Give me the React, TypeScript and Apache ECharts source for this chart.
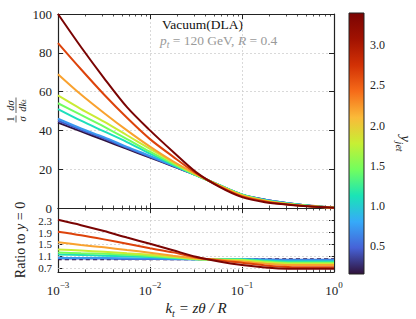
import React, { useEffect, useRef } from 'react';
import * as echarts from 'echarts';

// k_t sample points (log-spaced, quarter decades)
const KT = [0.001, 0.001778, 0.003162, 0.005623, 0.01, 0.01778, 0.03162, 0.05623, 0.1, 0.1778, 0.3162, 0.5623, 1];
// y_jet of each curve (drives colour)
const Y_JET = [0.16, 0.45, 0.72, 1.1, 1.45, 1.8, 2.2, 2.65, 3.4];

// 1/sigma dsigma/dk_t
const SPEC_0 = [44, 39.5, 35, 30.5, 26, 21.5, 17, 11.8, 6.8, 4.3, 2.5, 1.1, 0.2];
const SPEC_1 = [45, 40.3, 35.8, 31, 26.4, 21.7, 17, 11.8, 6.9, 4.2, 2.45, 1.08, 0.2];
const SPEC_2 = [46, 41, 36.5, 31.5, 26.8, 21.9, 17, 11.9, 7.0, 4.2, 2.4, 1.05, 0.2];
const SPEC_3 = [51, 45, 39.5, 34, 28, 22.3, 16.9, 11.9, 6.9, 4.0, 2.3, 1.02, 0.18];
const SPEC_4 = [54, 48, 42, 35.5, 29, 22.8, 17, 11.8, 6.8, 3.9, 2.2, 0.98, 0.17];
const SPEC_5 = [58, 51, 44.5, 37.5, 30.5, 23.5, 17.2, 11.7, 6.6, 3.8, 2.1, 0.94, 0.17];
const SPEC_6 = [69, 58.5, 49, 40, 31.6, 24, 17.5, 11.6, 6.3, 3.6, 2.0, 0.88, 0.16];
const SPEC_7 = [85, 71.5, 58.5, 46.5, 35.5, 26.5, 18, 11.3, 6.0, 3.4, 1.85, 0.8, 0.15];
const SPEC_8 = [100, 83, 67, 52, 40, 29, 18.5, 11, 5.6, 3.0, 1.7, 0.75, 0.14];
const SPECTRA = [SPEC_0, SPEC_1, SPEC_2, SPEC_3, SPEC_4, SPEC_5, SPEC_6, SPEC_7, SPEC_8];

// Ratio to y = 0
const RATIO_0 = [1, 1, 1, 1, 1, 1, 1, 1, 1, 1, 1, 1, 1];
const RATIO_1 = [1.03, 1.02, 1.02, 1.01, 1.01, 1.0, 1.0, 1.0, 1.0, 0.99, 0.98, 0.98, 0.98];
const RATIO_2 = [1.05, 1.04, 1.04, 1.03, 1.02, 1.01, 1.0, 1.0, 1.0, 0.98, 0.96, 0.96, 0.96];
const RATIO_3 = [1.16, 1.14, 1.12, 1.1, 1.07, 1.04, 1.0, 1.0, 1.0, 0.95, 0.92, 0.92, 0.92];
const RATIO_4 = [1.23, 1.2, 1.18, 1.15, 1.11, 1.06, 1.0, 0.99, 0.98, 0.92, 0.88, 0.88, 0.88];
const RATIO_5 = [1.33, 1.29, 1.25, 1.2, 1.15, 1.08, 1.01, 0.98, 0.96, 0.89, 0.85, 0.85, 0.85];
const RATIO_6 = [1.57, 1.48, 1.4, 1.31, 1.22, 1.12, 1.03, 0.98, 0.92, 0.85, 0.8, 0.8, 0.8];
const RATIO_7 = [1.93, 1.81, 1.67, 1.52, 1.37, 1.23, 1.06, 0.96, 0.88, 0.79, 0.74, 0.73, 0.73];
const RATIO_8 = [2.33, 2.15, 1.95, 1.73, 1.52, 1.3, 1.08, 0.92, 0.8, 0.72, 0.68, 0.68, 0.68];
const RATIOS = [RATIO_0, RATIO_1, RATIO_2, RATIO_3, RATIO_4, RATIO_5, RATIO_6, RATIO_7, RATIO_8];

// ticks
const X_MAJOR = [0.001, 0.01, 0.1, 1];
const X_MINOR = [
  0.002, 0.003, 0.004, 0.005, 0.006, 0.007, 0.008, 0.009,
  0.02, 0.03, 0.04, 0.05, 0.06, 0.07, 0.08, 0.09,
  0.2, 0.3, 0.4, 0.5, 0.6, 0.7, 0.8, 0.9,
];
const RATIO_TICKS = [0.7, 1.1, 1.5, 1.9, 2.3];
const CBAR_TICKS = [0.5, 1.0, 1.5, 2.0, 2.5, 3.0];
const CBAR_MIN = 0.156;
const CBAR_MAX = 3.4;

const TURBO = ['#30123b', '#4662d7', '#36aaf9', '#1ae4b6', '#72fe5e', '#c7ef34', '#faba39', '#f66b19', '#d23105', '#a11201', '#7a0403'];

function hexToRgb(h: string) {
  const n = parseInt(h.slice(1), 16);
  return [(n >> 16) & 255, (n >> 8) & 255, n & 255];
}
function turbo(t: number) {
  const tt = Math.max(0, Math.min(1, t)) * (TURBO.length - 1);
  const i = Math.min(TURBO.length - 2, Math.floor(tt));
  const f = tt - i;
  const a = hexToRgb(TURBO[i]);
  const b = hexToRgb(TURBO[i + 1]);
  const c = a.map((v, k) => Math.round(v + (b[k] - v) * f));
  return `rgb(${c[0]},${c[1]},${c[2]})`;
}
const colorFor = (y: number) => turbo((y - CBAR_MIN) / (CBAR_MAX - CBAR_MIN));

const FONT = "'Liberation Serif', 'DejaVu Serif', serif";
const INK = '#222';
const GRID_LINE = { show: true, lineStyle: { color: '#cfcfcf', type: [2, 2] as any, width: 0.8 } };

function xAxesFor(gridIndex: number, labels: boolean) {
  const base: any = {
    type: 'log', logBase: 10, min: 0.001, max: 1, gridIndex,
    axisLine: { show: true, onZero: false, lineStyle: { color: INK, width: 1.2 } },
    splitLine: { show: false },
    axisLabel: { show: false },
  };
  const major: any = {
    ...base, position: 'bottom',
    axisTick: { show: true, inside: true, length: 5, customValues: X_MAJOR, lineStyle: { color: INK, width: 1 } },
    splitLine: GRID_LINE,
  };
  if (labels) {
    major.axisLabel = {
      show: true, customValues: X_MAJOR, margin: 8,
      formatter: (v: number) => {
        const e = Math.round(Math.log10(v));
        return `{b|10}{s|${e < 0 ? '\u2212' + Math.abs(e) : e}}`;
      },
      rich: {
        b: { fontFamily: FONT, fontSize: 13, color: INK, verticalAlign: 'bottom', lineHeight: 17 },
        s: { fontFamily: FONT, fontSize: 9, color: INK, verticalAlign: 'top', lineHeight: 17 },
      },
    };
    major.name = '{i|k}{s|t}{i| = z\u03b8 / R}';
    major.nameLocation = 'middle';
    major.nameGap = 28;
    major.nameTextStyle = {
      rich: {
        i: { fontFamily: FONT, fontStyle: 'italic', fontSize: 15, color: INK, verticalAlign: 'top', lineHeight: 18 },
        s: { fontFamily: FONT, fontStyle: 'italic', fontSize: 10, color: INK, verticalAlign: 'bottom', lineHeight: 18 },
      },
    };
  }
  const top = {
    ...base, position: 'top',
    axisTick: { show: true, inside: true, length: 5, customValues: X_MAJOR, lineStyle: { color: INK, width: 1 } },
  };
  const minorB = {
    ...base, position: 'bottom', axisLine: { show: false, onZero: false },
    axisTick: { show: true, inside: true, length: 2.5, customValues: X_MINOR, lineStyle: { color: INK, width: 0.8 } },
  };
  const minorT = {
    ...base, position: 'top', axisLine: { show: false, onZero: false },
    axisTick: { show: true, inside: true, length: 2.5, customValues: X_MINOR, lineStyle: { color: INK, width: 0.8 } },
  };
  return [major, top, minorB, minorT];
}

export default function App() {
  const ref = useRef<HTMLDivElement>(null);
  useEffect(() => {
    if (!ref.current) return;
    const chart = echarts.init(ref.current, null, { renderer: 'svg' });

    const topSeries = SPECTRA.map((arr, i) => ({
      type: 'line', xAxisIndex: 0, yAxisIndex: 0,
      data: KT.map((x, j) => [x, arr[j]]),
      showSymbol: false, smooth: 0.3, z: 2 + i,
      lineStyle: { color: colorFor(Y_JET[i]), width: 2 },
      itemStyle: { color: colorFor(Y_JET[i]) },
    }));
    const ratioSeries = RATIOS.map((arr, i) => {
      const s: any = {
        type: 'line', xAxisIndex: 4, yAxisIndex: 2,
        data: KT.map((x, j) => [x, arr[j]]),
        showSymbol: false, smooth: 0.3, z: 2 + i,
        lineStyle: { color: colorFor(Y_JET[i]), width: 2, type: i === 0 ? [4, 3] : 'solid' },
        itemStyle: { color: colorFor(Y_JET[i]) },
      };
      if (i === 0) {
        s.markLine = {
          silent: true, symbol: 'none', label: { show: false }, z: 1,
          lineStyle: { color: '#cfcfcf', type: [2, 2], width: 0.8 },
          data: RATIO_TICKS.map((v) => ({ yAxis: v })),
        };
      }
      return s;
    });

    const stops = TURBO.map((c, i) => ({ offset: i / (TURBO.length - 1), color: c }));
    const FR = 10.5;

    chart.setOption({
      animation: false,
      backgroundColor: '#ffffff',
      textStyle: { fontFamily: FONT },
      grid: [
        { left: 58, top: 14, width: 276, height: 194 },
        { left: 58, top: 208, width: 276, height: 65 },
        { left: 349, top: 13, width: 15, height: 261 },
      ],
      xAxis: [
        ...xAxesFor(0, false),
        ...xAxesFor(1, true),
        { gridIndex: 2, type: 'value', min: 0, max: 1, show: false },
      ],
      yAxis: [
        {
          gridIndex: 0, type: 'value', min: 0, max: 100, interval: 20, position: 'left',
          axisLine: { show: true, onZero: false, lineStyle: { color: INK, width: 1.2 } },
          axisTick: { show: true, inside: true, length: 5, lineStyle: { color: INK } },
          axisLabel: { fontFamily: FONT, fontSize: 13, color: INK, margin: 6 },
          splitLine: GRID_LINE,
        },
        {
          gridIndex: 0, type: 'value', min: 0, max: 100, interval: 20, position: 'right',
          axisLine: { show: true, onZero: false, lineStyle: { color: INK, width: 1.2 } },
          axisTick: { show: true, inside: true, length: 5, lineStyle: { color: INK } },
          axisLabel: { show: false }, splitLine: { show: false },
        },
        {
          gridIndex: 1, type: 'value', min: 0.567, max: 2.73, position: 'left',
          axisLine: { show: true, onZero: false, lineStyle: { color: INK, width: 1.2 } },
          axisTick: { show: true, inside: true, length: 5, customValues: RATIO_TICKS, lineStyle: { color: INK } },
          axisLabel: {
            customValues: RATIO_TICKS, fontFamily: FONT, fontSize: 11, color: INK, margin: 6,
            formatter: (v: number) => v.toFixed(1),
          },
          splitLine: { show: false },
          name: '{r|Ratio to }{i|y}{r| = 0}', nameLocation: 'middle', nameRotate: 90, nameGap: 20,
          nameTextStyle: {
            rich: {
              r: { fontFamily: FONT, fontSize: 14, color: INK },
              i: { fontFamily: FONT, fontSize: 14, fontStyle: 'italic', color: INK },
            },
          },
        },
        {
          gridIndex: 1, type: 'value', min: 0.567, max: 2.73, position: 'right',
          axisLine: { show: true, onZero: false, lineStyle: { color: INK, width: 1.2 } },
          axisTick: { show: true, inside: true, length: 5, customValues: RATIO_TICKS, lineStyle: { color: INK } },
          axisLabel: { show: false }, splitLine: { show: false },
        },
        {
          gridIndex: 2, type: 'value', min: CBAR_MIN, max: CBAR_MAX, position: 'right',
          axisLine: { show: false },
          axisTick: { show: true, inside: false, length: 4, customValues: CBAR_TICKS, lineStyle: { color: INK } },
          axisLabel: { customValues: CBAR_TICKS, fontFamily: FONT, fontSize: 12, color: INK, margin: 6, formatter: (v: number) => v.toFixed(1) },
          splitLine: { show: false },
          name: '{i|y}{s|jet}', nameLocation: 'middle', nameRotate: -90, nameGap: 30,
          nameTextStyle: {
            rich: {
              i: { fontFamily: FONT, fontSize: 14, fontStyle: 'italic', color: INK, verticalAlign: 'top', lineHeight: 18 },
              s: { fontFamily: FONT, fontSize: 10, fontStyle: 'italic', color: INK, verticalAlign: 'bottom', lineHeight: 18 },
            },
          },
        },
      ],
      series: [
        ...topSeries,
        ...ratioSeries,
        {
          type: 'custom', xAxisIndex: 8, yAxisIndex: 4, data: [[0.5, 1]], silent: true,
          renderItem: (params: any) => {
            const cs = params.coordSys;
            return {
              type: 'rect',
              shape: { x: cs.x, y: cs.y, width: cs.width, height: cs.height },
              style: { fill: new echarts.graphic.LinearGradient(0, 1, 0, 0, stops), stroke: INK, lineWidth: 1 },
            };
          },
        },
      ],
      graphic: [
        {
          type: 'text', left: 162, top: 17,
          style: { text: 'Vacuum(DLA)', fontFamily: FONT, fontSize: 13.5, fill: '#111' },
        },
        {
          type: 'text', left: 160, top: 33,
          style: {
            text: '{i|p}{s|t}{r| = 120 GeV, }{i|R}{r| = 0.4}',
            rich: {
              i: { fontFamily: FONT, fontSize: 13.5, fontStyle: 'italic', fill: '#9a9a9a', verticalAlign: 'top', lineHeight: 17 },
              s: { fontFamily: FONT, fontSize: 9.5, fontStyle: 'italic', fill: '#9a9a9a', verticalAlign: 'bottom', lineHeight: 17 },
              r: { fontFamily: FONT, fontSize: 13.5, fill: '#9a9a9a', verticalAlign: 'top', lineHeight: 17 },
            },
          },
        },
        {
          type: 'group', x: 16, y: 110, rotation: Math.PI / 2,
          children: [
            { type: 'text', x: -9, y: -0.5, style: { text: '1', fontFamily: FONT, fontSize: FR, fill: INK, align: 'center', verticalAlign: 'bottom' } },
            { type: 'line', shape: { x1: -12.5, y1: 0, x2: -5.5, y2: 0 }, style: { stroke: INK, lineWidth: 0.7 } },
            { type: 'text', x: -9, y: 0.5, style: { text: '\u03c3', fontFamily: FONT, fontSize: FR, fontStyle: 'italic', fill: INK, align: 'center', verticalAlign: 'top' } },
            { type: 'text', x: 4.5, y: -0.5, style: { text: 'd\u03c3', fontFamily: FONT, fontSize: FR, fontStyle: 'italic', fill: INK, align: 'center', verticalAlign: 'bottom' } },
            { type: 'line', shape: { x1: -3, y1: 0, x2: 12.5, y2: 0 }, style: { stroke: INK, lineWidth: 0.7 } },
            { type: 'text', x: 4.5, y: 0.5, style: { text: 'dk\u209c', fontFamily: FONT, fontSize: FR, fontStyle: 'italic', fill: INK, align: 'center', verticalAlign: 'top' } },
          ],
        },
      ],
    });
    return () => chart.dispose();
  }, []);
  return <div ref={ref} style={{ position: 'fixed', left: 0, top: 0, width: 416, height: 319, background: '#fff' }} />;
}
